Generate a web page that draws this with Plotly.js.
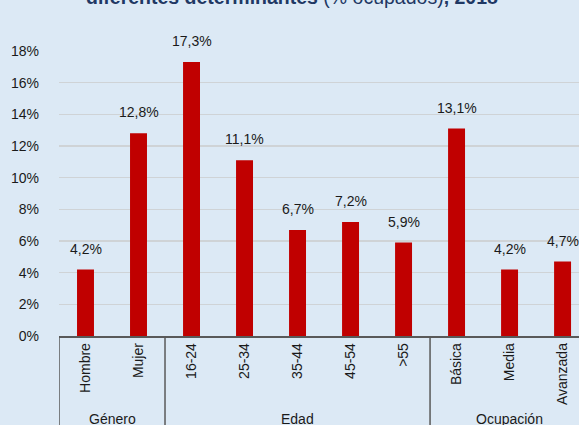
<html lang="es">
  <head>
    <meta charset="UTF-8" />
    <script src="https://cdn.plot.ly/plotly-3.0.1.min.js"></script>
    <style>
      body { margin: 0; background: #dce9f5; overflow: hidden; }
    </style>
  </head>
  <body>
    <div id="chart" style="width: 579px; height: 425px"></div>
    <script>
      // data
      const categories = ["Hombre", "Mujer", "16-24", "25-34", "35-44", "45-54", ">55", "Básica", "Media", "Avanzada"];
      const values = [4.2, 12.8, 17.3, 11.1, 6.7, 7.2, 5.9, 13.1, 4.2, 4.7];
      const groups = ["Género", "Edad", "Ocupación"];
      const groupSizes = [2, 5, 3];

      const narrow = "Liberation Sans Narrow, Arial Narrow, Liberation Sans, Arial, sans-serif";
      const xs = categories.map((_, i) => i);

      const annotations = values.map((v, i) => ({
        x: i,
        y: v,
        xref: "x",
        yref: "y",
        text: v.toFixed(1).replace(".", ",") + "%",
        showarrow: false,
        yanchor: "bottom",
        yshift: 11,
        font: { family: narrow, size: 14, color: "#1a1a1a" },
      }));

      // title line, only its lower part shows at the top edge
      annotations.push({
        x: 0.448,
        y: 1.19,
        xref: "paper",
        yref: "paper",
        xanchor: "center",
        yanchor: "middle",
        text: "<b>diferentes determinantes</b> (% ocupados)<b>, 2018</b>",
        showarrow: false,
        font: { family: "Liberation Sans, Arial, sans-serif", size: 19.5, color: "#1f3864" },
      });

      // group labels and separators under the axis
      const shapes = [];
      let start = 0;
      groups.forEach((g, k) => {
        const end = start + groupSizes[k];
        annotations.push({
          x: (start + end - 1) / 2,
          y: -0.29,
          xref: "x",
          yref: "paper",
          text: g,
          showarrow: false,
          yanchor: "middle",
          font: { family: narrow, size: 14, color: "#1a1a1a" },
        });
        shapes.push({
          type: "line",
          xref: "x",
          yref: "paper",
          x0: start - 0.5,
          x1: start - 0.5,
          y0: 0,
          y1: -0.4,
          line: { color: "#595959", width: 1.5 },
        });
        start = end;
      });

      Plotly.newPlot(
        "chart",
        [
          {
            x: xs,
            y: values,
            type: "bar",
            width: 0.32,
            marker: { color: "#c00000" },
            hoverinfo: "none",
          },
        ],
        {
          width: 579,
          height: 425,
          paper_bgcolor: "#dce9f5",
          plot_bgcolor: "#dce9f5",
          margin: { l: 59, r: 0, t: 51, b: 89 },
          showlegend: false,
          xaxis: {
            range: [-0.5, 9.31],
            tickmode: "array",
            tickvals: xs,
            ticktext: categories,
            tickangle: -90,
            ticks: "",
            showgrid: false,
            zeroline: false,
            showline: true,
            linecolor: "#595959",
            linewidth: 1.5,
            tickfont: { family: narrow, size: 14, color: "#1a1a1a" },
          },
          yaxis: {
            range: [0, 18],
            dtick: 2,
            ticksuffix: "%",
            ticks: "",
            ticklabelstandoff: 19,
            gridcolor: "#cfd3d6",
            gridwidth: 1.5,
            zeroline: false,
            tickfont: { family: narrow, size: 14, color: "#1a1a1a" },
          },
          annotations: annotations,
          shapes: shapes,
        },
        { displayModeBar: false, staticPlot: true }
      );
    </script>
  </body>
</html>
